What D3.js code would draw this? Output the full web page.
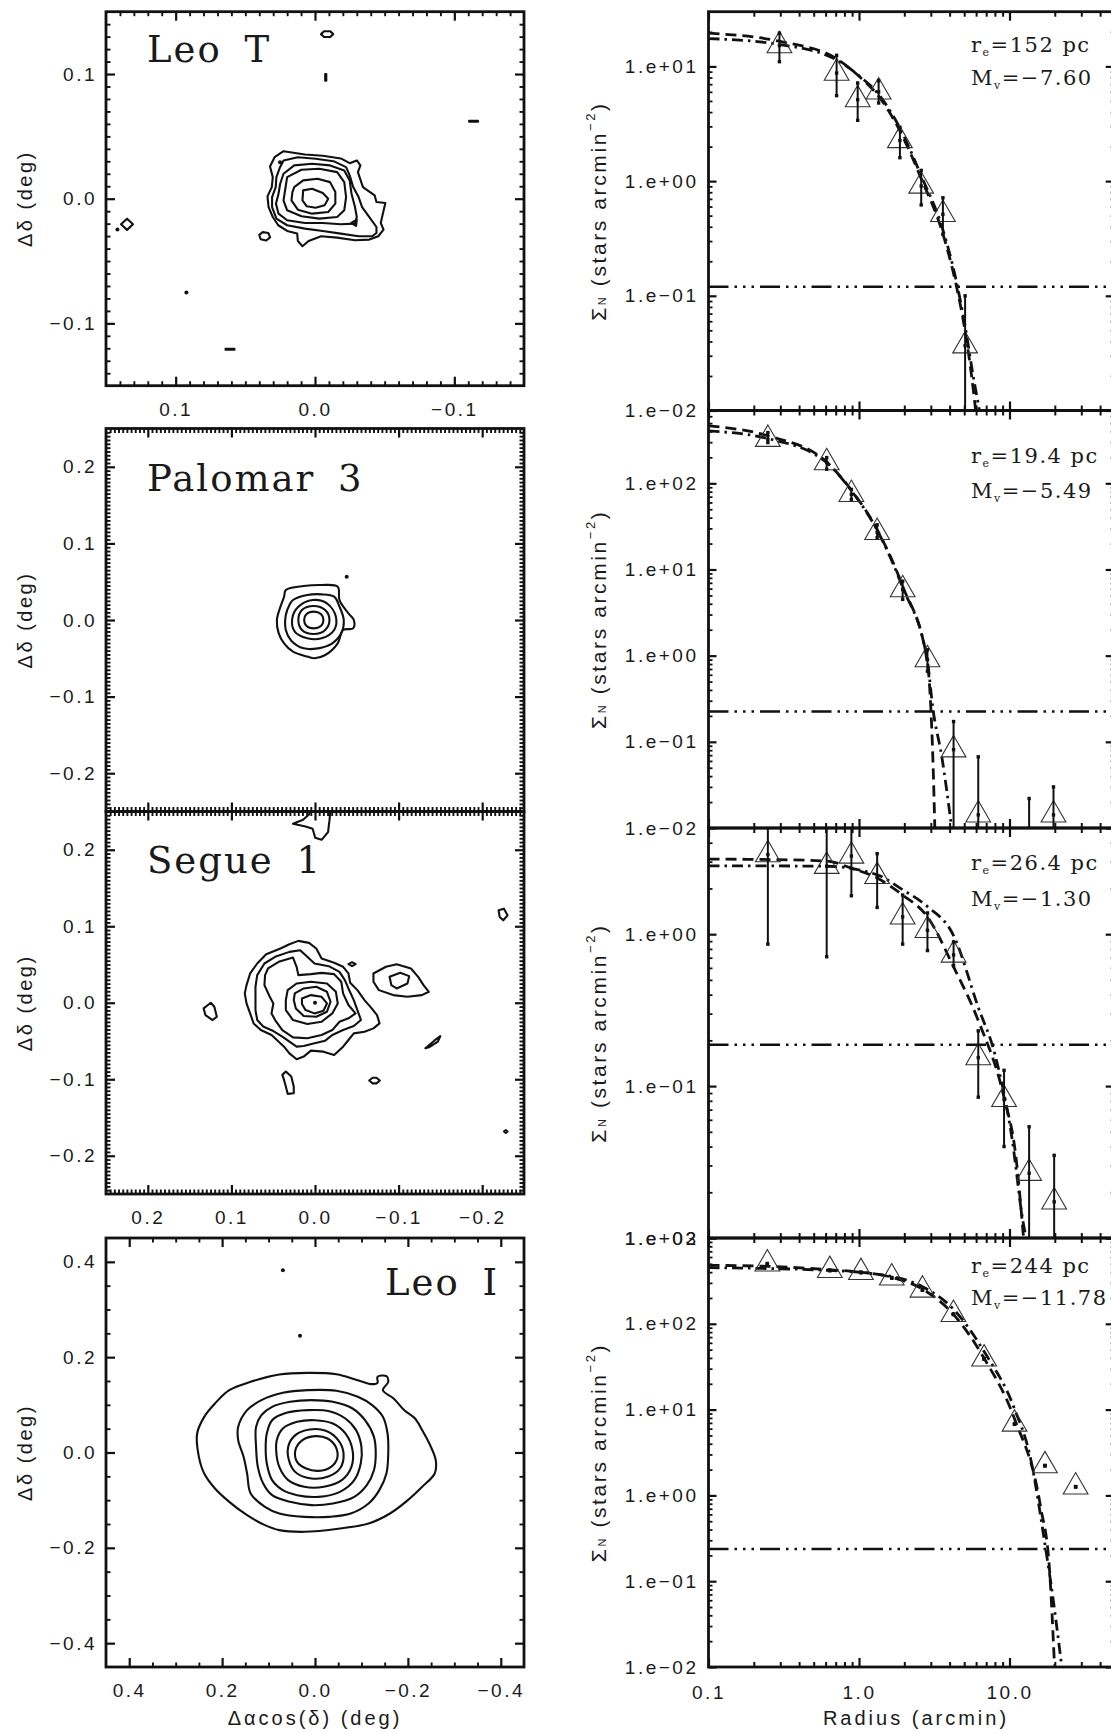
<!DOCTYPE html>
<html>
<head>
<meta charset="utf-8">
<script src="https://cdn.jsdelivr.net/npm/d3@7"></script>
<style>
html, body { margin: 0; padding: 0; background: #fff; }
svg { display: block; }
.tick text { font-family: "Liberation Sans", Arial, sans-serif; font-size: 19px; letter-spacing: 2.5px; fill: #1a1a1a; }
</style>
</head>
<body>
<svg id="fig" width="1111" height="1733"></svg>
<script>
// ---------------- Contour maps (offsets in degrees: [dRA cos(dec), dDec]) ----------------
const leoTContours = [
  [[0.0226,0.0381],[0.0072,0.0355],[-0.0056,0.0344],[-0.0185,0.0323],[-0.0249,0.0285],[-0.0300,0.0307],[-0.0326,0.0267],[-0.0308,0.0213],[-0.0344,0.0093],[-0.0428,0.0027],[-0.0441,-0.0027],[-0.0505,-0.0035],[-0.0487,-0.0120],[-0.0472,-0.0195],[-0.0492,-0.0248],[-0.0454,-0.0301],[-0.0390,-0.0328],[-0.0287,-0.0333],[-0.0159,-0.0312],[-0.0044,-0.0301],[0.0046,-0.0339],[0.0090,-0.0381],[0.0123,-0.0339],[0.0128,-0.0280],[0.0200,-0.0259],[0.0264,-0.0213],[0.0303,-0.0147],[0.0333,-0.0067],[0.0341,0.0019],[0.0310,0.0093],[0.0303,0.0173],[0.0323,0.0259],[0.0290,0.0333]],
  [[0.0226,0.0307],[0.0123,0.0333],[-0.0005,0.0320],[-0.0133,0.0301],[-0.0223,0.0253],[-0.0249,0.0187],[-0.0274,0.0093],[-0.0313,0.0013],[-0.0338,-0.0067],[-0.0390,-0.0147],[-0.0441,-0.0227],[-0.0441,-0.0275],[-0.0410,-0.0301],[-0.0313,-0.0301],[-0.0185,-0.0280],[-0.0056,-0.0259],[0.0072,-0.0240],[0.0200,-0.0213],[0.0277,-0.0160],[0.0308,-0.0067],[0.0308,0.0013],[0.0282,0.0093],[0.0277,0.0173],[0.0251,0.0253]],
  [[0.0226,0.0200],[0.0149,0.0267],[0.0021,0.0280],[-0.0108,0.0267],[-0.0210,0.0227],[-0.0249,0.0147],[-0.0262,0.0040],[-0.0287,-0.0067],[-0.0300,-0.0147],[-0.0287,-0.0200],[-0.0185,-0.0205],[-0.0056,-0.0195],[0.0072,-0.0195],[0.0200,-0.0173],[0.0262,-0.0120],[0.0280,-0.0040],[0.0262,0.0040],[0.0250,0.0120]],
  [[0.0200,0.0173],[0.0097,0.0232],[-0.0031,0.0240],[-0.0159,0.0213],[-0.0210,0.0133],[-0.0223,0.0013],[-0.0210,-0.0093],[-0.0159,-0.0147],[-0.0031,-0.0160],[0.0097,-0.0141],[0.0200,-0.0093],[0.0226,-0.0013],[0.0213,0.0080]],
  [[0.0149,0.0093],[0.0085,0.0147],[-0.0018,0.0160],[-0.0108,0.0133],[-0.0146,0.0053],[-0.0146,-0.0040],[-0.0095,-0.0107],[0.0021,-0.0120],[0.0123,-0.0088],[0.0169,-0.0013],[0.0162,0.0053]],
  [[0.0085,0.0067],[0.0021,0.0080],[-0.0056,0.0045],[-0.0095,0.0000],[-0.0069,-0.0053],[-0.0005,-0.0072],[0.0059,-0.0061],[0.0090,-0.0013]]
];
const leoTBlobs = [
  [[-0.0043,0.1320],[-0.0065,0.1343],[-0.0109,0.1343],[-0.0131,0.1320],[-0.0109,0.1297],[-0.0065,0.1297]],
  [[-0.0073,0.1000],[-0.0081,0.1000],[-0.0081,0.0946],[-0.0073,0.0946]],
  [[-0.1106,0.0625],[-0.1170,0.0625],[-0.1170,0.0617],[-0.1106,0.0617]],
  [[0.1392,-0.0205],[0.1349,-0.0160],[0.1306,-0.0205],[0.1349,-0.0250]],
  [[0.0400,-0.0290],[0.0375,-0.0268],[0.0335,-0.0275],[0.0322,-0.0310],[0.0350,-0.0335],[0.0390,-0.0325]],
  [[-0.0260,-0.0195],[-0.0300,-0.0168],[-0.0295,-0.0218]],
  [[0.0642,-0.1212],[0.0578,-0.1212],[0.0578,-0.1204],[0.0642,-0.1204]]
];
const leoTDots = [[0.0923,-0.0752],[0.0251,0.0293],[0.1418,-0.0248]];

const pal3Contours = [
  [[0.0349,0.0391],[0.0135,0.0443],[-0.0079,0.0457],[-0.0272,0.0435],[-0.0293,0.0261],[-0.0400,0.0087],[-0.0464,0.0000],[-0.0456,-0.0109],[-0.0336,-0.0130],[-0.0272,-0.0304],[-0.0122,-0.0457],[0.0006,-0.0500],[0.0092,-0.0478],[0.0263,-0.0413],[0.0370,-0.0304],[0.0434,-0.0174],[0.0456,0.0000],[0.0413,0.0174],[0.0370,0.0304]],
  [[0.0263,0.0261],[0.0092,0.0326],[-0.0079,0.0335],[-0.0229,0.0304],[-0.0293,0.0174],[-0.0344,0.0000],[-0.0314,-0.0174],[-0.0207,-0.0304],[-0.0036,-0.0370],[0.0135,-0.0370],[0.0284,-0.0270],[0.0349,-0.0130],[0.0349,0.0065],[0.0306,0.0196]],
  [[0.0199,0.0174],[0.0028,0.0261],[-0.0143,0.0217],[-0.0250,0.0043],[-0.0229,-0.0130],[-0.0079,-0.0239],[0.0092,-0.0239],[0.0242,-0.0152],[0.0272,0.0022]],
  [[0.0156,0.0130],[0.0015,0.0183],[-0.0122,0.0130],[-0.0173,0.0000],[-0.0122,-0.0130],[0.0015,-0.0183],[0.0156,-0.0130],[0.0199,0.0000]],
  [[0.0101,0.0078],[0.0015,0.0109],[-0.0071,0.0078],[-0.0101,0.0000],[-0.0071,-0.0078],[0.0015,-0.0109],[0.0101,-0.0078],[0.0130,0.0000]]
];
const pal3Blobs = [];
const pal3Dots = [[-0.0379,0.0565]];

const seg1Contours = [
  [[0.0819,0.0230],[0.0776,0.0383],[0.0691,0.0513],[0.0584,0.0635],[0.0413,0.0709],[0.0306,0.0765],[0.0199,0.0809],[0.0071,0.0783],[-0.0015,0.0709],[-0.0079,0.0578],[-0.0229,0.0522],[-0.0336,0.0470],[-0.0400,0.0383],[-0.0421,0.0261],[-0.0507,0.0165],[-0.0592,0.0035],[-0.0678,-0.0074],[-0.0742,-0.0161],[-0.0772,-0.0270],[-0.0699,-0.0335],[-0.0592,-0.0378],[-0.0464,-0.0400],[-0.0400,-0.0487],[-0.0336,-0.0574],[-0.0229,-0.0683],[-0.0101,-0.0639],[0.0049,-0.0626],[0.0135,-0.0704],[0.0220,-0.0739],[0.0306,-0.0661],[0.0370,-0.0574],[0.0434,-0.0509],[0.0520,-0.0422],[0.0648,-0.0357],[0.0734,-0.0270],[0.0776,-0.0139],[0.0819,-0.0009],[0.0840,0.0122]],
  [[0.0691,0.0361],[0.0605,0.0513],[0.0477,0.0600],[0.0306,0.0665],[0.0177,0.0687],[0.0092,0.0600],[0.0006,0.0513],[-0.0165,0.0478],[-0.0293,0.0404],[-0.0357,0.0296],[-0.0400,0.0187],[-0.0464,0.0035],[-0.0507,-0.0096],[-0.0550,-0.0226],[-0.0464,-0.0304],[-0.0336,-0.0357],[-0.0207,-0.0422],[-0.0122,-0.0496],[0.0006,-0.0530],[0.0135,-0.0565],[0.0220,-0.0574],[0.0306,-0.0509],[0.0391,-0.0443],[0.0498,-0.0370],[0.0620,-0.0310],[0.0691,-0.0226],[0.0712,-0.0096],[0.0712,0.0057],[0.0712,0.0209]],
  [[0.0562,0.0448],[0.0434,0.0535],[0.0263,0.0591],[0.0220,0.0470],[0.0199,0.0361],[0.0049,0.0374],[-0.0079,0.0391],[-0.0229,0.0374],[-0.0314,0.0274],[-0.0336,0.0122],[-0.0400,-0.0030],[-0.0485,-0.0139],[-0.0400,-0.0204],[-0.0293,-0.0248],[-0.0207,-0.0357],[-0.0079,-0.0422],[0.0092,-0.0465],[0.0263,-0.0452],[0.0391,-0.0357],[0.0477,-0.0226],[0.0520,-0.0139],[0.0498,-0.0009],[0.0541,0.0078],[0.0605,0.0230],[0.0597,0.0361]],
  [[0.0327,0.0165],[0.0220,0.0252],[0.0049,0.0274],[-0.0143,0.0252],[-0.0250,0.0143],[-0.0272,-0.0009],[-0.0207,-0.0139],[-0.0079,-0.0248],[0.0092,-0.0278],[0.0263,-0.0226],[0.0349,-0.0096],[0.0349,0.0035]],
  [[0.0242,0.0122],[0.0135,0.0187],[-0.0015,0.0209],[-0.0143,0.0143],[-0.0186,0.0013],[-0.0143,-0.0117],[-0.0015,-0.0183],[0.0135,-0.0174],[0.0229,-0.0074],[0.0254,0.0035]],
  [[0.0156,0.0057],[0.0049,0.0100],[-0.0079,0.0078],[-0.0143,-0.0009],[-0.0101,-0.0104],[0.0006,-0.0139],[0.0113,-0.0096],[0.0156,-0.0017]]
];
const seg1Blobs = [
  [[0.0263,0.2339],[0.0143,0.2391],[0.0071,0.2461],[0.0049,0.2530],[-0.0186,0.2530],[-0.0173,0.2383],[-0.0156,0.2230],[-0.0079,0.2130],[-0.0002,0.2157],[0.0028,0.2274],[0.0113,0.2304]],
  [[-0.0699,0.0383],[-0.0849,0.0470],[-0.0977,0.0504],[-0.1148,0.0448],[-0.1234,0.0339],[-0.1298,0.0230],[-0.1362,0.0143],[-0.1277,0.0100],[-0.1106,0.0078],[-0.0935,0.0100],[-0.0764,0.0165],[-0.0699,0.0274]],
  [[-0.0892,0.0339],[-0.1020,0.0391],[-0.1127,0.0348],[-0.1106,0.0252],[-0.0977,0.0187],[-0.0913,0.0230]],
  [[-0.0400,0.0504],[-0.0443,0.0530],[-0.0486,0.0504],[-0.0443,0.0478]],
  [[0.1332,-0.0074],[0.1247,0.0000],[0.1204,-0.0052],[0.1174,-0.0183],[0.1225,-0.0226],[0.1311,-0.0161]],
  [[0.0391,-0.0943],[0.0349,-0.0900],[0.0284,-0.0965],[0.0254,-0.1096],[0.0254,-0.1183],[0.0327,-0.1191],[0.0349,-0.1096],[0.0370,-0.1009]],
  [[-0.0648,-0.1017],[-0.0690,-0.0980],[-0.0735,-0.0980],[-0.0776,-0.1017],[-0.0735,-0.1054],[-0.0690,-0.1054]],
  [[-0.1320,-0.0596],[-0.1427,-0.0496],[-0.1499,-0.0435],[-0.1470,-0.0509],[-0.1363,-0.0583]],
  [[-0.2196,0.1209],[-0.2260,0.1230],[-0.2303,0.1143],[-0.2252,0.1078],[-0.2209,0.1122]],
  [[-0.2260,-0.1683],[-0.2282,-0.1665],[-0.2304,-0.1683],[-0.2282,-0.1701]]
];
const seg1Dots = [[0.0000,0.0000]];

const leoIContours = [
  [[0.2538,0.0399],[0.2385,0.0748],[0.2154,0.1028],[0.1846,0.1308],[0.1385,0.1483],[0.0769,0.1636],[0.0154,0.1671],[-0.0462,0.1643],[-0.0923,0.1517],[-0.1231,0.1434],[-0.1346,0.1462],[-0.1346,0.1587],[-0.1538,0.1601],[-0.1577,0.1483],[-0.1462,0.1308],[-0.1692,0.1133],[-0.1923,0.0888],[-0.2154,0.0713],[-0.2308,0.0469],[-0.2462,0.0189],[-0.2600,-0.0161],[-0.2577,-0.0441],[-0.2308,-0.0720],[-0.2000,-0.1000],[-0.1615,-0.1280],[-0.1154,-0.1490],[-0.0538,-0.1594],[0.0231,-0.1664],[0.0769,-0.1629],[0.1077,-0.1524],[0.1462,-0.1315],[0.1846,-0.1035],[0.2154,-0.0755],[0.2385,-0.0441],[0.2500,-0.0091]],
  [[0.1654,0.0538],[0.1462,0.0888],[0.1154,0.1098],[0.0692,0.1252],[0.0154,0.1308],[-0.0462,0.1294],[-0.0923,0.1168],[-0.1231,0.0993],[-0.1462,0.0748],[-0.1562,0.0399],[-0.1577,-0.0021],[-0.1538,-0.0441],[-0.1385,-0.0790],[-0.1154,-0.1070],[-0.0769,-0.1280],[-0.0308,-0.1350],[0.0231,-0.1350],[0.0769,-0.1280],[0.1077,-0.1140],[0.1385,-0.0860],[0.1462,-0.0441],[0.1538,-0.0091],[0.1654,0.0259]],
  [[0.1269,0.0538],[0.1154,0.0783],[0.0923,0.0958],[0.0538,0.1063],[0.0077,0.1098],[-0.0385,0.1063],[-0.0808,0.0923],[-0.1077,0.0678],[-0.1269,0.0329],[-0.1308,-0.0021],[-0.1269,-0.0371],[-0.1115,-0.0685],[-0.0846,-0.0930],[-0.0385,-0.1070],[0.0077,-0.1105],[0.0538,-0.1035],[0.0923,-0.0895],[0.1115,-0.0650],[0.1231,-0.0301],[0.1269,0.0119]],
  [[0.1038,0.0399],[0.0923,0.0678],[0.0615,0.0832],[0.0154,0.0888],[-0.0308,0.0867],[-0.0654,0.0713],[-0.0885,0.0469],[-0.1000,0.0119],[-0.0985,-0.0231],[-0.0846,-0.0580],[-0.0538,-0.0825],[-0.0077,-0.0930],[0.0385,-0.0895],[0.0692,-0.0790],[0.0923,-0.0580],[0.1038,-0.0231],[0.1062,0.0119]],
  [[0.0823,0.0259],[0.0692,0.0503],[0.0385,0.0643],[0.0000,0.0678],[-0.0385,0.0608],[-0.0654,0.0399],[-0.0808,0.0049],[-0.0785,-0.0301],[-0.0577,-0.0580],[-0.0192,-0.0720],[0.0231,-0.0720],[0.0577,-0.0580],[0.0769,-0.0301],[0.0831,-0.0021]],
  [[0.0577,0.0119],[0.0423,0.0364],[0.0115,0.0483],[-0.0231,0.0455],[-0.0500,0.0259],[-0.0615,-0.0021],[-0.0538,-0.0336],[-0.0269,-0.0510],[0.0077,-0.0545],[0.0385,-0.0441],[0.0538,-0.0231]],
  [[0.0423,0.0049],[0.0269,0.0259],[0.0000,0.0343],[-0.0269,0.0294],[-0.0446,0.0119],[-0.0477,-0.0126],[-0.0346,-0.0301],[-0.0077,-0.0385],[0.0192,-0.0336],[0.0385,-0.0196]]
];
const leoIBlobs = [];
const leoIDots = [[0.0692,0.3825],[0.0323,0.2448]];

const objectNames = ['Leo T', 'Palomar 3', 'Segue 1', 'Leo I'];
const mapTicks = [[0.1, 0.0, -0.1], [0.2, 0.1, 0.0, -0.1, -0.2], [0.2, 0.1, 0.0, -0.1, -0.2], [0.4, 0.2, 0.0, -0.2, -0.4]];
const mapHalfWidth = [0.15, 0.25, 0.25, 0.45];

// ---------------- Radial surface-density profiles (radius in arcmin, stars arcmin^-2) ----------------
const leoTRadius = [0.296, 0.71, 0.98, 1.35, 1.87, 2.59, 3.61, 5.07];
const leoTSigma  = [15.2, 8.75, 5.13, 6.0, 2.26, 0.906, 0.513, 0.0367];
const leoTLow    = [11.0, 5.56, 3.39, 4.8, 1.6, 0.62, 0.344, 0.001];
const leoTHigh   = [19.5, 12.5, 7.17, 7.5, 2.95, 1.24, 0.716, 0.10];
const leoTKingR  = [0.1, 0.3, 0.7, 1.0, 1.35, 1.87, 2.6, 3.6, 4.4, 5.1, 5.6, 5.95];
const leoTKingV  = [19.5, 16.5, 11.8, 8.2, 5.5, 2.74, 1.04, 0.35, 0.128, 0.047, 0.02, 0.0102];
const leoTPlumR  = [0.1, 0.3, 0.7, 1.0, 1.35, 1.87, 2.6, 3.6, 4.4, 5.1, 5.7, 6.3];
const leoTPlumV  = [17.5, 15.5, 11.5, 8.3, 5.7, 2.9, 1.1, 0.38, 0.14, 0.052, 0.021, 0.0102];

const pal3Radius = [0.248, 0.61, 0.89, 1.32, 1.95, 2.85, 4.25, 6.2, 13.5, 19.6];
const pal3Sigma  = [325, 174, 74.5, 27, 5.85, 0.90, 0.081, 0.0142, 0, 0.0142];
const pal3Low    = [297, 146, 65, 23.4, 4.5, 0.66, 0.001, 0.001, 0.001, 0.001];
const pal3High   = [388, 199, 85, 33, 7.3, 1.17, 0.172, 0.067, 0.022, 0.030];
const pal3KingR  = [0.1, 0.25, 0.6, 0.9, 1.3, 1.95, 2.85, 3.0, 3.1, 3.19];
const pal3KingV  = [464, 355, 181, 81, 30.5, 6.4, 0.82, 0.25, 0.06, 0.01];
const pal3PlumR  = [0.1, 0.25, 0.6, 0.9, 1.3, 1.95, 2.85, 3.1, 3.55, 4.13];
const pal3PlumV  = [405, 330, 178, 80, 30, 6.2, 0.85, 0.24, 0.067, 0.01];

const seg1Radius = [0.248, 0.61, 0.89, 1.32, 1.95, 2.85, 4.25, 6.2, 9.2, 13.5, 19.8];
const seg1Sigma  = [3.34, 2.8, 3.27, 2.4, 1.30, 1.06, 0.73, 0.154, 0.0817, 0.0267, 0.0173];
const seg1Low    = [0.86, 0.71, 1.79, 1.5, 0.86, 0.78, 0.62, 0.0845, 0.040, 0.001, 0.001];
const seg1High   = [6, 6, 6, 3.39, 1.81, 1.38, 0.89, 0.231, 0.127, 0.054, 0.035];
const seg1KingR  = [0.1, 0.25, 0.61, 0.89, 1.32, 1.95, 2.85, 4.25, 6.2, 9.2, 11.0, 12.4];
const seg1KingV  = [3.12, 3.1, 3.03, 2.72, 2.34, 1.81, 1.3, 0.61, 0.27, 0.084, 0.035, 0.01];
const seg1PlumR  = [0.1, 0.61, 1.32, 1.95, 2.85, 4.25, 6.2, 8.0, 10.4, 12.3, 12.9];
const seg1PlumV  = [2.82, 2.8, 2.46, 1.96, 1.52, 0.98, 0.33, 0.162, 0.045, 0.0128, 0.01];

const leoIRadius = [0.246, 0.64, 1.03, 1.65, 2.64, 4.24, 6.78, 10.8, 17.2, 27.5];
const leoISigma  = [500, 419, 397, 343, 248, 129, 39, 6.8, 2.22, 1.26];
const leoILow    = [495, 415, 393, 340, 246, 128, 38.6, 6.73, 2.2, 1.25];
const leoIHigh   = [505, 423, 401, 346, 250, 130, 39.4, 6.87, 2.24, 1.27];
const leoIKingR  = [0.1, 0.25, 0.64, 1.03, 1.65, 2.64, 4.24, 6.78, 10.8, 16.1, 18.4, 19.9];
const leoIKingV  = [480, 467, 426, 400, 349, 254, 129, 39.6, 7.8, 0.73, 0.144, 0.0104];
const leoIPlumR  = [0.1, 0.64, 1.65, 2.64, 4.24, 6.78, 10.8, 13.7, 17.4, 18.9, 22.2];
const leoIPlumV  = [451, 419, 356, 271, 148, 47.5, 10.2, 2.86, 0.237, 0.091, 0.0104];

const backgroundLevel = [0.12, 0.225, 0.187, 0.237];
const halfLightRadius = ['152', '19.4', '26.4', '244'];
const absMagnitude = ['\u22127.60', '\u22125.49', '\u22121.30', '\u221211.78'];
const radiusTicks = [0.1, 1, 10];

// ---------------- Layout ----------------
const svg = d3.select('#fig');
const defs = svg.append('defs');
const SERIF = '"DejaVu Serif", "Liberation Serif", serif';
const SANS = '"Liberation Sans", Arial, sans-serif';
const INK = '#111';

const LX0 = 106, LX1 = 524;
const leftLayout = [
  { y0: 11.7,  y1: 385.7, minor: 0.01,  labels: true,  tx: 147, ty: 61.5 },
  { y0: 428.5, y1: 811.5, minor: 0.005, labels: false, tx: 147, ty: 491 },
  { y0: 811.5, y1: 1194,  minor: 0.005, labels: true,  tx: 147, ty: 873 },
  { y0: 1238,  y1: 1667,  minor: 0.05,  labels: true,  tx: 385, ty: 1295 }
];
const mapSets = [
  { contours: leoTContours, blobs: leoTBlobs, dots: leoTDots, smooth: false },
  { contours: pal3Contours, blobs: pal3Blobs, dots: pal3Dots, smooth: true },
  { contours: seg1Contours, blobs: seg1Blobs, dots: seg1Dots, smooth: false },
  { contours: leoIContours, blobs: leoIBlobs, dots: leoIDots, smooth: true }
];

const RX0 = 708.5, RX1 = 1114.7;
const rightLayout = [
  { y0: 11.7,  y1: 410.5, ymax: 30,   ty: [52, 85] },
  { y0: 410.5, y1: 828,   ymax: 700,  ty: [463, 498] },
  { y0: 828,   y1: 1238,  ymax: 5,    ty: [870, 906] },
  { y0: 1238,  y1: 1667,  ymax: 1000, ty: [1273, 1305] }
];
const profileSets = [
  { r: leoTRadius, s: leoTSigma, lo: leoTLow, hi: leoTHigh, kr: leoTKingR, kv: leoTKingV, pr: leoTPlumR, pv: leoTPlumV },
  { r: pal3Radius, s: pal3Sigma, lo: pal3Low, hi: pal3High, kr: pal3KingR, kv: pal3KingV, pr: pal3PlumR, pv: pal3PlumV },
  { r: seg1Radius, s: seg1Sigma, lo: seg1Low, hi: seg1High, kr: seg1KingR, kv: seg1KingV, pr: seg1PlumR, pv: seg1PlumV },
  { r: leoIRadius, s: leoISigma, lo: leoILow, hi: leoIHigh, kr: leoIKingR, kv: leoIKingV, pr: leoIPlumR, pv: leoIPlumV }
];

// inward-pointing ticks on one side of a frame
function addAxis(g, axisFn, scale, values, size, fmt, pad, transform, width) {
  const a = axisFn(scale).tickValues(values).tickSize(-size).tickSizeOuter(0)
    .tickPadding(pad).tickFormat(fmt || (() => ''));
  const ag = g.append('g').attr('transform', transform).call(a);
  ag.select('.domain').remove();
  ag.selectAll('.tick line').attr('stroke', INK).attr('stroke-width', width);
  return ag;
}
const fmtLin = v => (v < -1e-9 ? '\u2212' : '') + Math.abs(v).toFixed(1);
const fmtExp = v => {
  const e = Math.round(Math.log10(v));
  return '1.e' + (e < 0 ? '\u2212' : '+') + String(Math.abs(e)).padStart(2, '0');
};

// ---------------- Left column: contour maps ----------------
leftLayout.forEach((L, i) => {
  const lim = mapHalfWidth[i];
  const set = mapSets[i];
  const x = d3.scaleLinear().domain([lim, -lim]).range([LX0, LX1]);
  const y = d3.scaleLinear().domain([-lim, lim]).range([L.y1, L.y0]);
  const g = svg.append('g');
  const cid = 'clipL' + i;
  defs.append('clipPath').attr('id', cid).append('rect')
    .attr('x', LX0).attr('y', L.y0).attr('width', LX1 - LX0).attr('height', L.y1 - L.y0);
  const cg = g.append('g').attr('clip-path', `url(#${cid})`);
  const line = d3.line().x(d => x(d[0])).y(d => y(d[1]))
    .curve(set.smooth ? d3.curveCatmullRomClosed.alpha(0.5) : d3.curveLinearClosed);
  cg.selectAll('path.contour').data(set.contours.concat(set.blobs)).join('path')
    .attr('class', 'contour').attr('d', line).attr('fill', 'none')
    .attr('stroke', INK).attr('stroke-width', 2.1).attr('stroke-linejoin', 'round');
  cg.selectAll('circle').data(set.dots).join('circle')
    .attr('cx', d => x(d[0])).attr('cy', d => y(d[1])).attr('r', 2).attr('fill', INK);

  const major = mapTicks[i];
  const n = Math.round(lim / L.minor);
  const minor = d3.range(-n + 1, n).map(k => k * L.minor)
    .filter(v => !major.some(m => Math.abs(m - v) < 1e-9));

  addAxis(g, d3.axisBottom, x, major, 9, L.labels ? fmtLin : null, 17, `translate(0,${L.y1})`, 2.2);
  addAxis(g, d3.axisBottom, x, minor, 4.5, null, 0, `translate(0,${L.y1})`, 1.9);
  addAxis(g, d3.axisTop, x, major, 9, null, 0, `translate(0,${L.y0})`, 2.2);
  addAxis(g, d3.axisTop, x, minor, 4.5, null, 0, `translate(0,${L.y0})`, 1.9);
  addAxis(g, d3.axisLeft, y, major, 9, fmtLin, 9, `translate(${LX0},0)`, 2.2);
  addAxis(g, d3.axisLeft, y, minor, 4.5, null, 0, `translate(${LX0},0)`, 1.9);
  addAxis(g, d3.axisRight, y, major, 9, null, 0, `translate(${LX1},0)`, 2.2);
  addAxis(g, d3.axisRight, y, minor, 4.5, null, 0, `translate(${LX1},0)`, 1.9);

  g.append('rect').attr('x', LX0).attr('y', L.y0).attr('width', LX1 - LX0).attr('height', L.y1 - L.y0)
    .attr('fill', 'none').attr('stroke', INK).attr('stroke-width', 2.8);

  g.append('text').attr('x', L.tx).attr('y', L.ty)
    .attr('font-family', SERIF).attr('font-size', 37).attr('letter-spacing', 2)
    .attr('word-spacing', 9).attr('fill', '#1a1a1a').text(objectNames[i]);

  g.append('text')
    .attr('transform', `translate(25,${(L.y0 + L.y1) / 2}) rotate(-90)`)
    .attr('text-anchor', 'middle').attr('dominant-baseline', 'central')
    .attr('font-family', SANS).attr('font-size', 20).attr('letter-spacing', 2.5).attr('fill', '#1a1a1a')
    .text('\u0394\u03b4 (deg)');
});

svg.append('text').attr('x', (LX0 + LX1) / 2).attr('y', 1725)
  .attr('text-anchor', 'middle').attr('font-family', SANS).attr('font-size', 20)
  .attr('letter-spacing', 3).attr('fill', '#1a1a1a')
  .text('\u0394\u03b1cos(\u03b4) (deg)');

// ---------------- Right column: radial profiles ----------------
const xr = d3.scaleLog().domain([0.1, 50]).range([RX0, RX1]);
const xMinor = [];
[0.1, 1, 10].forEach(d => { for (let k = 2; k <= 9; k++) { const v = k * d; if (v < 50) xMinor.push(v); } });
const tri = d3.symbol().type(d3.symbolTriangle).size(265);

rightLayout.forEach((L, i) => {
  const P = profileSets[i];
  const y = d3.scaleLog().domain([0.01, L.ymax]).range([L.y1, L.y0]);
  const g = svg.append('g');
  const cid = 'clipR' + i;
  defs.append('clipPath').attr('id', cid).append('rect')
    .attr('x', RX0).attr('y', L.y0).attr('width', RX1 - RX0).attr('height', L.y1 - L.y0);
  const cg = g.append('g').attr('clip-path', `url(#${cid})`);

  // background level
  cg.append('line').attr('x1', RX0).attr('x2', RX1)
    .attr('y1', y(backgroundLevel[i])).attr('y2', y(backgroundLevel[i]))
    .attr('stroke', INK).attr('stroke-width', 2.4)
    .attr('stroke-dasharray', '20,6,2.5,6,2.5,6,2.5,6');

  // model fits
  const fit = d3.line().x(d => xr(d[0])).y(d => y(d[1])).curve(d3.curveMonotoneX);
  cg.append('path').attr('d', fit(d3.zip(P.kr, P.kv))).attr('fill', 'none')
    .attr('stroke', INK).attr('stroke-width', 2.8).attr('stroke-dasharray', '11,6');
  cg.append('path').attr('d', fit(d3.zip(P.pr, P.pv))).attr('fill', 'none')
    .attr('stroke', INK).attr('stroke-width', 2.8).attr('stroke-dasharray', '11,5,2.5,5');

  // data points
  const pts = P.r.map((r, k) => ({ r, s: P.s[k], lo: P.lo[k], hi: P.hi[k] }));
  cg.selectAll('path.tri').data(pts.filter(d => d.s > 0)).join('path').attr('class', 'tri')
    .attr('d', tri).attr('transform', d => `translate(${xr(d.r)},${y(d.s)})`)
    .attr('fill', 'none').attr('stroke', '#333').attr('stroke-width', 1.1);
  cg.selectAll('line.err').data(pts).join('line').attr('class', 'err')
    .attr('x1', d => xr(d.r)).attr('x2', d => xr(d.r))
    .attr('y1', d => y(d.lo)).attr('y2', d => y(d.hi))
    .attr('stroke', INK).attr('stroke-width', 2);
  const ends = [];
  pts.forEach(d => { ends.push([d.r, d.hi]); if (d.lo > 0.01) ends.push([d.r, d.lo]); if (d.s > 0) ends.push([d.r, d.s]); });
  cg.selectAll('rect.cap').data(ends).join('rect').attr('class', 'cap')
    .attr('x', d => xr(d[0]) - 1.7).attr('y', d => y(d[1]) - 1.7)
    .attr('width', 3.4).attr('height', 3.4).attr('fill', INK);

  // ticks
  const lo = -2, hi = Math.floor(Math.log10(L.ymax) + 1e-9);
  const yMajor = d3.range(lo, hi + 1).map(e => Math.pow(10, e));
  const yMinor = [];
  d3.range(lo, hi + 1).forEach(e => { for (let k = 2; k <= 9; k++) { const v = k * Math.pow(10, e); if (v < L.ymax * 0.999) yMinor.push(v); } });
  const last = i === rightLayout.length - 1;
  addAxis(g, d3.axisBottom, xr, radiusTicks, 9, last ? (v => v.toFixed(1)) : null, 19, `translate(0,${L.y1})`, 2.2);
  addAxis(g, d3.axisBottom, xr, xMinor, 5, null, 0, `translate(0,${L.y1})`, 2);
  addAxis(g, d3.axisTop, xr, radiusTicks, 9, null, 0, `translate(0,${L.y0})`, 2.2);
  addAxis(g, d3.axisTop, xr, xMinor, 5, null, 0, `translate(0,${L.y0})`, 2);
  addAxis(g, d3.axisLeft, y, yMajor, 8, fmtExp, 10, `translate(${RX0},0)`, 2.2);
  addAxis(g, d3.axisLeft, y, yMinor, 4, null, 0, `translate(${RX0},0)`, 1.8);
  addAxis(g, d3.axisRight, y, yMajor, 9, null, 0, `translate(${RX1},0)`, 2.2);
  addAxis(g, d3.axisRight, y, yMinor, 4, null, 0, `translate(${RX1},0)`, 1.8);

  g.append('rect').attr('x', RX0).attr('y', L.y0).attr('width', RX1 - RX0).attr('height', L.y1 - L.y0)
    .attr('fill', 'none').attr('stroke', INK).attr('stroke-width', 2.8);

  // annotations
  const t1 = g.append('text').attr('x', 971).attr('y', L.ty[0]).attr('font-family', SERIF)
    .attr('font-size', 21).attr('letter-spacing', 1.5).attr('fill', '#1a1a1a').attr('xml:space', 'preserve');
  t1.append('tspan').text('r');
  t1.append('tspan').attr('font-size', 11).attr('dy', 4).text('e');
  t1.append('tspan').attr('dy', -4).text('=' + halfLightRadius[i] + ' pc');
  const t2 = g.append('text').attr('x', 971).attr('y', L.ty[1]).attr('font-family', SERIF)
    .attr('font-size', 21).attr('letter-spacing', 1.5).attr('fill', '#1a1a1a');
  t2.append('tspan').text('M');
  t2.append('tspan').attr('font-size', 11).attr('dy', 4).text('v');
  t2.append('tspan').attr('dy', -4).text('=' + absMagnitude[i]);

  // axis title
  const yt = g.append('text')
    .attr('transform', `translate(598,${(L.y0 + L.y1) / 2}) rotate(-90)`)
    .attr('text-anchor', 'middle').attr('dominant-baseline', 'central')
    .attr('font-family', SANS).attr('font-size', 21).attr('letter-spacing', 2.6).attr('fill', '#1a1a1a');
  yt.append('tspan').text('\u03a3');
  yt.append('tspan').attr('font-size', 11).attr('dy', 4).text('N');
  yt.append('tspan').attr('dy', -4).text(' (stars arcmin');
  yt.append('tspan').attr('font-size', 13).attr('dy', -8).text('\u22122');
  yt.append('tspan').attr('dy', 8).text(')');
});

svg.append('text').attr('x', 916).attr('y', 1725)
  .attr('text-anchor', 'middle').attr('font-family', SANS).attr('font-size', 20)
  .attr('letter-spacing', 3).attr('fill', '#1a1a1a').text('Radius (arcmin)');
</script>
</body>
</html>
